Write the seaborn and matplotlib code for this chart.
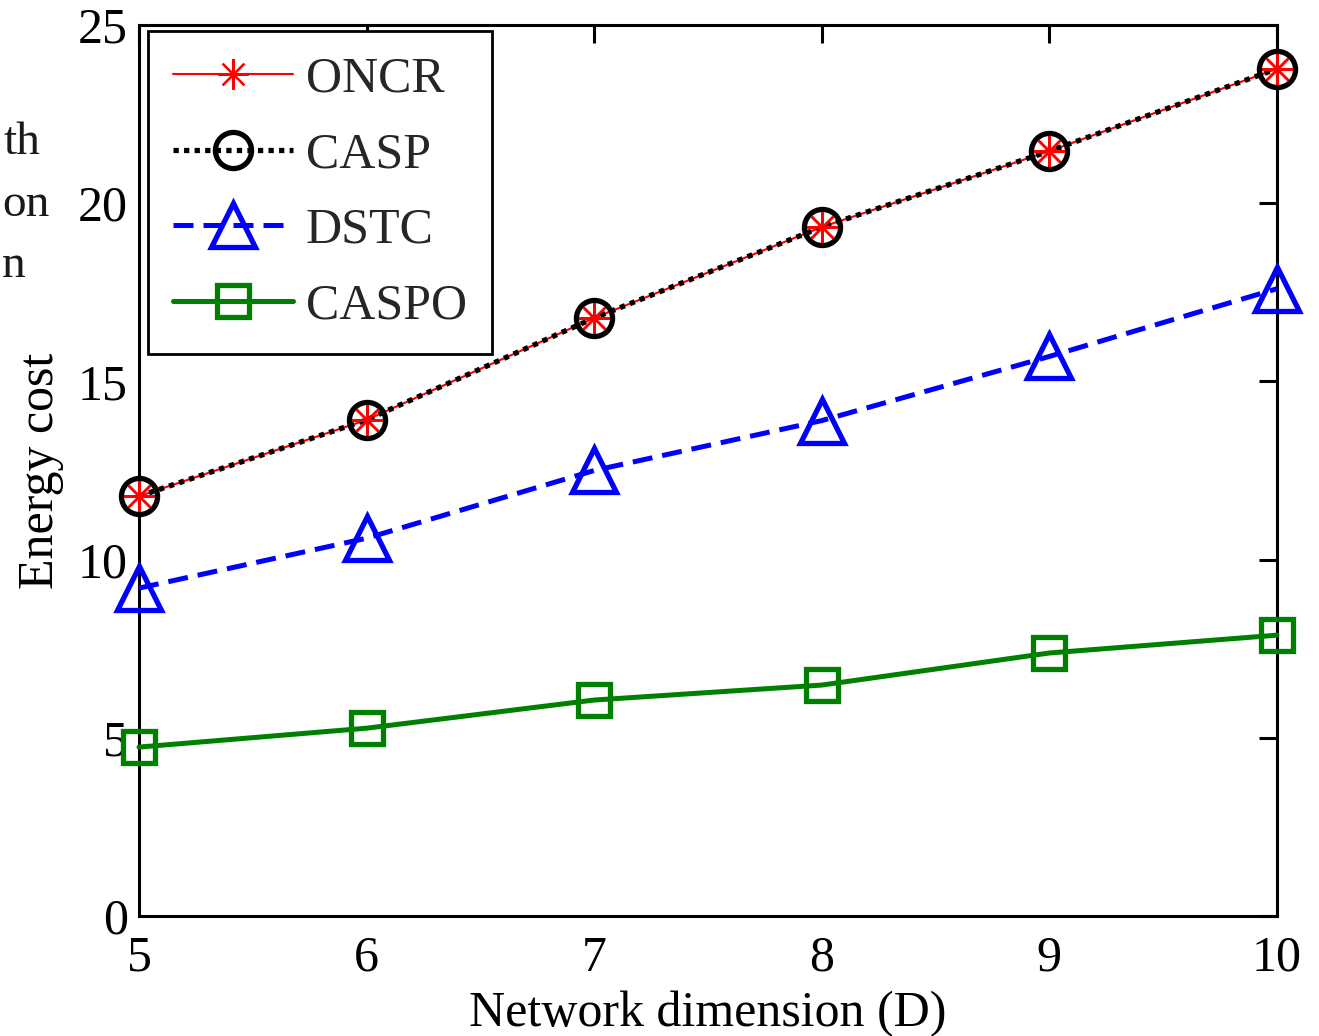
import matplotlib
matplotlib.use("Agg")
import matplotlib.pyplot as plt
import seaborn as sns
import pandas as pd

dims = [5, 6, 7, 8, 9, 10]
oncr = [11.78, 13.92, 16.78, 19.33, 21.46, 23.77]
casp = [11.78, 13.92, 16.78, 19.33, 21.46, 23.77]
dstc = [9.2, 10.6, 12.5, 13.9, 15.7, 17.6]
caspo = [4.74, 5.27, 6.06, 6.48, 7.38, 7.88]
series_names = ["ONCR", "CASP", "DSTC", "CASPO"]
xticks = [5, 6, 7, 8, 9, 10]
yticks = [0, 5, 10, 15, 20, 25]

sns.set_theme(style="white")
plt.rcParams["font.family"] = ["Liberation Serif", "DejaVu Serif"]

fig = plt.figure(figsize=(13.19, 10.36), dpi=100)
ax = fig.add_axes([0.1054, 0.1158, 0.8627, 0.8601])

green = (0, 0.5, 0)
styles = {
    "ONCR": dict(color="red", linestyle="-", lw=1.5, marker=(8, 2, 0), ms=22,
                 mec="red", mew=1.6, mfc="none", z=3),
    "CASP": dict(color="black", linestyle=(0, (1.0, 1.0)), lw=3.8, marker="o", ms=26,
                 mec="black", mew=3.8, mfc="none", z=4),
    "DSTC": dict(color="blue", linestyle=(0, (4.0, 2.0)), lw=3.6, marker="^", ms=31,
                 mec="blue", mew=3.8, mfc="none", z=3),
    "CASPO": dict(color=green, linestyle="-", lw=3.6, marker="s", ms=23,
                  mec=green, mew=3.8, mfc="none", z=3),
}
values = {"ONCR": oncr, "CASP": casp, "DSTC": dstc, "CASPO": caspo}

order = ["CASPO", "DSTC", "ONCR", "CASP"]
handles = {}
for name in order:
    df = pd.DataFrame({"D": dims, "E": values[name]})
    st = styles[name]
    sns.lineplot(data=df, x="D", y="E", ax=ax, color=st["color"],
                 linestyle=st["linestyle"], linewidth=st["lw"], marker=st["marker"],
                 markersize=st["ms"], markeredgecolor=st["mec"],
                 markeredgewidth=st["mew"], markerfacecolor=st["mfc"],
                 label=name, clip_on=False, zorder=st["z"])
    handles[name] = ax.get_lines()[-1]

# red asterisks drawn on top of the black circles
st = styles["ONCR"]
df_top = pd.DataFrame({"D": dims, "E": oncr})
sns.lineplot(data=df_top, x="D", y="E", ax=ax, linestyle="none", marker=st["marker"],
             markersize=st["ms"], markeredgecolor=st["mec"], markeredgewidth=st["mew"],
             markerfacecolor="none", color="red", clip_on=False, zorder=6, legend=False)

ax.set_xlim(5, 10)
ax.set_ylim(0, 25)
ax.set_xticks(xticks)
ax.set_yticks(yticks)
ax.set_xticklabels([str(t) for t in xticks])
ax.set_yticklabels([str(t) for t in yticks])
ax.tick_params(direction="in", length=13, width=2.2, top=True, right=True,
               labelsize=36, colors="black", pad=8)
ax.tick_params(axis="x", pad=14)
for s in ax.spines.values():
    s.set_visible(True)
    s.set_color("black")
    s.set_linewidth(2.2)
ax.set_xlabel("Network dimension (D)", fontsize=36, color="black", labelpad=6)
ax.set_ylabel("Energy cost", fontsize=36, color="black", labelpad=10)

leg = ax.legend([handles[n] for n in series_names], series_names, loc="upper left",
                bbox_to_anchor=(0.008, 0.993), fontsize=36, numpoints=1,
                handlelength=2.4, handletextpad=0.25, labelspacing=0.58,
                borderpad=0.5, fancybox=False, framealpha=1, edgecolor="black",
                borderaxespad=0.0)
leg.get_frame().set_linewidth(2.0)
leg.set_zorder(10)

# fragments of neighbouring text at the left edge
fig.text(4 / 1319, 1 - 143 / 1036, "th", fontsize=34, color="#1a1a1a", ha="left", va="center")
fig.text(2 / 1319, 1 - 205 / 1036, "on", fontsize=34, color="#1a1a1a", ha="left", va="center")
fig.text(2 / 1319, 1 - 266 / 1036, "n", fontsize=34, color="#1a1a1a", ha="left", va="center")

fig.savefig("out.png", dpi=100, facecolor="white")
